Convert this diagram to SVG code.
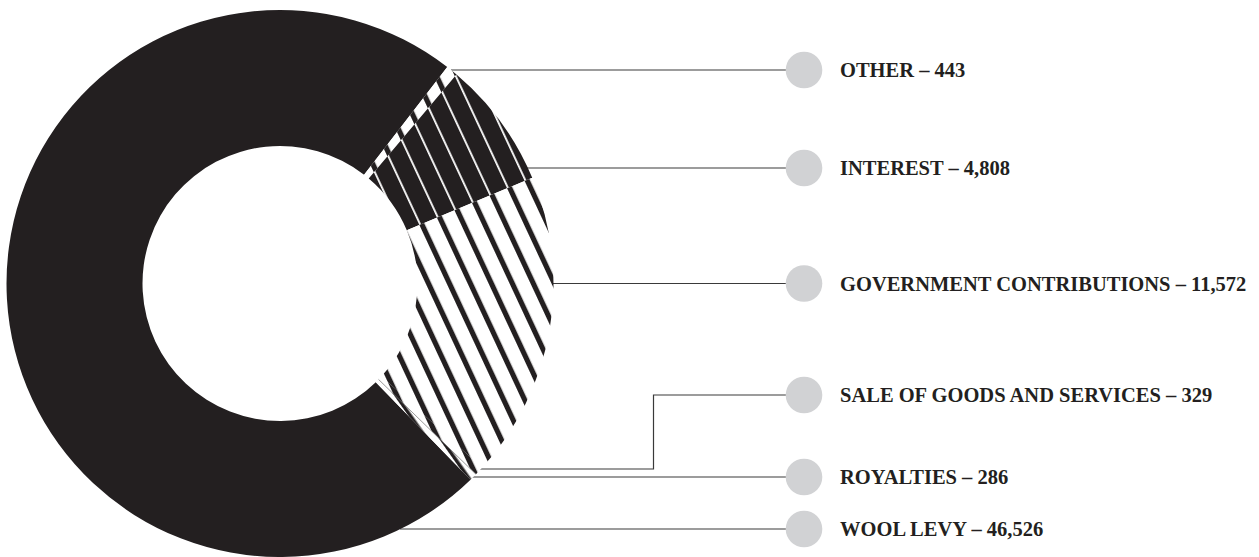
<svg xmlns="http://www.w3.org/2000/svg" width="1259" height="557" viewBox="0 0 1259 557">
  <style>
    .lbl { font-family: "Liberation Serif", "Times New Roman", serif; font-weight: bold; font-size: 20.5px; fill: #231f20; }
    .dot { fill: #d1d2d4; }
    .conn { fill: none; stroke: #3a3a3a; stroke-width: 1.2; }
    .wool { fill: #231f20; }
  </style>
  <defs>
    <pattern id="stripesW" patternUnits="userSpaceOnUse" width="19" height="19" patternTransform="rotate(-25)">
      <rect x="0" y="0" width="19" height="19" fill="#ffffff"/>
      <rect x="0" y="0" width="5.2" height="19" fill="#231f20"/>
    </pattern>
    <pattern id="stripesB" patternUnits="userSpaceOnUse" width="19" height="19" patternTransform="rotate(-25)">
      <rect x="0" y="0" width="19" height="19" fill="#231f20"/>
      <rect x="0" y="0" width="1.8" height="19" fill="#ffffff"/>
    </pattern>
    <pattern id="stripesR" patternUnits="userSpaceOnUse" width="12" height="12" patternTransform="rotate(-35)">
      <rect x="0" y="0" width="12" height="12" fill="#ffffff"/>
      <rect x="0" y="0" width="3.5" height="12" fill="#231f20"/>
    </pattern>
  </defs>

  <g id="connectors">
    <path class="conn" d="M451 70 H786"/>
    <path class="conn" d="M525 168 H786"/>
    <path class="conn" d="M553 283.5 H786"/>
    <path class="conn" d="M480 469 H653.5 V395 H786"/>
    <path class="conn" d="M472 477 H786"/>
    <path class="conn" d="M400 529 H786"/>
  </g>

  <g id="slice-wool">
    <path class="wool" d="M470.53 479.72 A273.5 273.5 0 1 1 447.25 67.10 L364.09 174.71 A137.5 137.5 0 1 0 375.79 382.15 Z"/>
  </g>
  <g id="slice-other">
    <path fill="url(#stripesW)" d="M447.25 67.10 A273.5 273.5 0 0 1 456.51 74.58 L368.74 178.47 A137.5 137.5 0 0 0 364.09 174.71 Z"/>
  </g>
  <g id="slice-interest">
    <path fill="url(#stripesB)" d="M456.51 74.58 A273.5 273.5 0 0 1 532.23 177.75 L406.81 230.33 A137.5 137.5 0 0 0 368.74 178.47 Z"/>
  </g>
  <g id="slice-government">
    <path fill="url(#stripesW)" d="M532.23 177.75 A273.5 273.5 0 0 1 482.02 467.86 L381.57 376.18 A137.5 137.5 0 0 0 406.81 230.33 Z"/>
  </g>
  <g id="slice-sale">
    <path fill="url(#stripesW)" d="M482.02 467.86 A273.5 273.5 0 0 1 475.96 474.29 L378.52 379.42 A137.5 137.5 0 0 0 381.57 376.18 Z"/>
  </g>
  <g id="slice-royalties">
    <path fill="url(#stripesR)" d="M475.96 474.29 A273.5 273.5 0 0 1 470.53 479.72 L375.79 382.15 A137.5 137.5 0 0 0 378.52 379.42 Z"/>
    <path d="M475.96 474.29 L378.52 379.42" stroke="#555" stroke-width="0.6" fill="none"/>
  </g>

  <g id="legend-other">
    <circle class="dot" cx="804" cy="70" r="18.3"/>
    <text class="lbl" x="840" y="77">OTHER – 443</text>
  </g>
  <g id="legend-interest">
    <circle class="dot" cx="804" cy="168" r="18.3"/>
    <text class="lbl" x="840" y="175">INTEREST – 4,808</text>
  </g>
  <g id="legend-government">
    <circle class="dot" cx="804" cy="283.5" r="18.3"/>
    <text class="lbl" x="840" y="290.5">GOVERNMENT CONTRIBUTIONS – 11,572</text>
  </g>
  <g id="legend-sale">
    <circle class="dot" cx="804" cy="395" r="18.3"/>
    <text class="lbl" x="840" y="402">SALE OF GOODS AND SERVICES – 329</text>
  </g>
  <g id="legend-royalties">
    <circle class="dot" cx="804" cy="477" r="18.3"/>
    <text class="lbl" x="840" y="484">ROYALTIES – 286</text>
  </g>
  <g id="legend-wool">
    <circle class="dot" cx="804" cy="529" r="18.3"/>
    <text class="lbl" x="840" y="536">WOOL LEVY – 46,526</text>
  </g>
</svg>
